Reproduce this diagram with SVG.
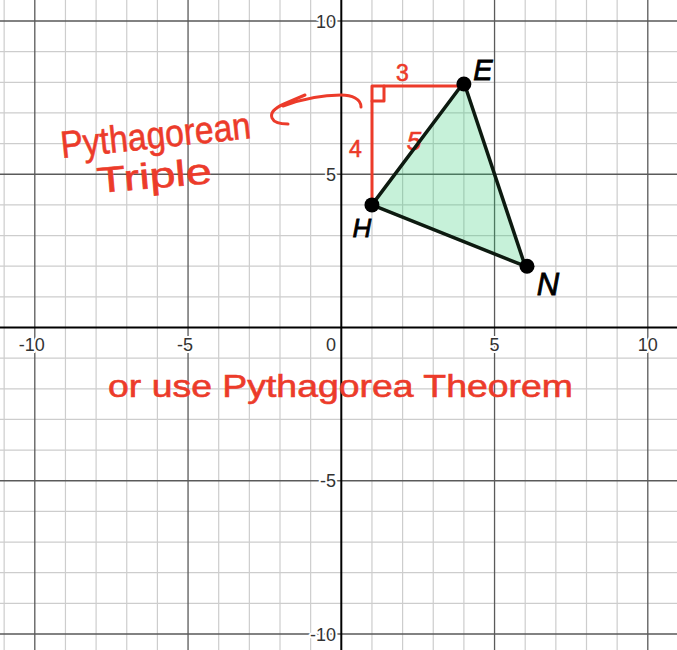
<svg xmlns="http://www.w3.org/2000/svg" width="677" height="650" viewBox="0 0 677 650">
<style>
.minor{stroke:#cdcdcd;stroke-width:1.2;fill:none}
.major{stroke:#5a5a5a;stroke-width:1.3;fill:none}
.axis{stroke:#000;stroke-width:2;fill:none}
.lbl{font-family:"Liberation Sans",Arial,sans-serif;font-size:18px;fill:#333;stroke:#fff;stroke-width:4;paint-order:stroke;stroke-linejoin:round}
.red{stroke:#ec3b2a;stroke-width:3;fill:none;stroke-linecap:round;stroke-linejoin:round}
.hand{font-family:"Liberation Sans",Arial,sans-serif;fill:#ec3b2a;stroke:#ec3b2a;stroke-width:0.6}
.blk{font-family:"Liberation Sans",Arial,sans-serif;fill:#000;stroke:#000;stroke-width:0.8;font-style:italic}
.edge{stroke:#0d1a10;stroke-width:3.5;fill:none;stroke-linecap:round}
</style>
<rect width="677" height="650" fill="#fff"/>
<g id="grid">
<g class="minor">
<path d="M4.15,0V650M65.45,0V650M96.1,0V650M126.75,0V650M157.4,0V650M218.7,0V650M249.35,0V650M280,0V650M310.65,0V650M371.95,0V650M402.6,0V650M433.25,0V650M463.9,0V650M525.2,0V650M555.85,0V650M586.5,0V650M617.15,0V650"/>
<path d="M0,51.65H677M0,82.3H677M0,112.95H677M0,143.6H677M0,204.9H677M0,235.55H677M0,266.2H677M0,296.85H677M0,358.15H677M0,388.8H677M0,419.45H677M0,450.1H677M0,511.4H677M0,542.05H677M0,572.7H677M0,603.35H677"/>
</g>
<g class="major">
<path d="M34.8,0V650M188.05,0V650M494.55,0V650M647.8,0V650"/>
<path d="M0,21H677M0,174.25H677M0,480.75H677M0,634H677"/>
</g>
<g class="axis">
<path d="M341.3,0V650"/>
<path d="M0,327.5H677"/>
</g>
<g id="axis-labels">
<text class="lbl" x="336" y="27.5" text-anchor="end">10</text>
<text class="lbl" x="336" y="180.8" text-anchor="end">5</text>
<text class="lbl" x="336" y="487.3" text-anchor="end">-5</text>
<text class="lbl" x="336" y="640.5" text-anchor="end">-10</text>
<text class="lbl" x="44.8" y="351" text-anchor="end">-10</text>
<text class="lbl" x="193" y="351" text-anchor="end">-5</text>
<text class="lbl" x="336" y="351" text-anchor="end">0</text>
<text class="lbl" x="494.55" y="351" text-anchor="middle">5</text>
<text class="lbl" x="647.8" y="351" text-anchor="middle">10</text>
</g>
</g>
<g id="triangle-fill">
<polygon points="371.95,204.9 463.9,82.3 525.2,266.2" fill="#2ecc71" fill-opacity="0.27"/>
</g>
<g id="annotations">
<path class="red" d="M372,205V86H462"/>
<path class="red" d="M372,101H384V86" stroke-width="2.5"/>
<text class="hand" x="402.5" y="81" font-size="23" text-anchor="middle">3</text>
<text class="hand" x="355.5" y="157" font-size="23" text-anchor="middle">4</text>
<text class="hand" x="414" y="150" font-size="26" text-anchor="middle" font-style="italic">5</text>
<path class="red" d="M361,107C361,99 352,95 341,95C322,95 302,99 283,106"/>
<path class="red" d="M305,95L284,104C275,108 270,113 272,118C274,123 282,124 288,124"/>
<text class="hand" x="62" y="158" font-size="38" textLength="191" lengthAdjust="spacingAndGlyphs" transform="rotate(-6 62 158)">Pythagorean</text>
<text class="hand" x="98" y="193" font-size="36" textLength="115" lengthAdjust="spacingAndGlyphs" transform="rotate(-5 98 193)">Triple</text>
<text class="hand" x="108" y="397" font-size="32" textLength="465" lengthAdjust="spacingAndGlyphs">or use Pythagorea Theorem</text>
</g>
<g id="connectors">
<path class="edge" d="M371.95,204.9L463.9,82.3"/>
<path class="edge" d="M463.9,82.3L525.2,266.2"/>
<path class="edge" d="M525.2,266.2L371.95,204.9"/>
</g>
<g id="H">
<circle cx="371.95" cy="204.9" r="7.5" fill="#000"/>
<text class="blk" x="362" y="237" font-size="26" text-anchor="middle">H</text>
</g>
<g id="E">
<circle cx="463.9" cy="84" r="7.5" fill="#000"/>
<text class="blk" x="483" y="80" font-size="29" text-anchor="middle">E</text>
</g>
<g id="N">
<circle cx="527" cy="266.2" r="7.5" fill="#000"/>
<text class="blk" x="548" y="295" font-size="31" text-anchor="middle">N</text>
</g>
</svg>
